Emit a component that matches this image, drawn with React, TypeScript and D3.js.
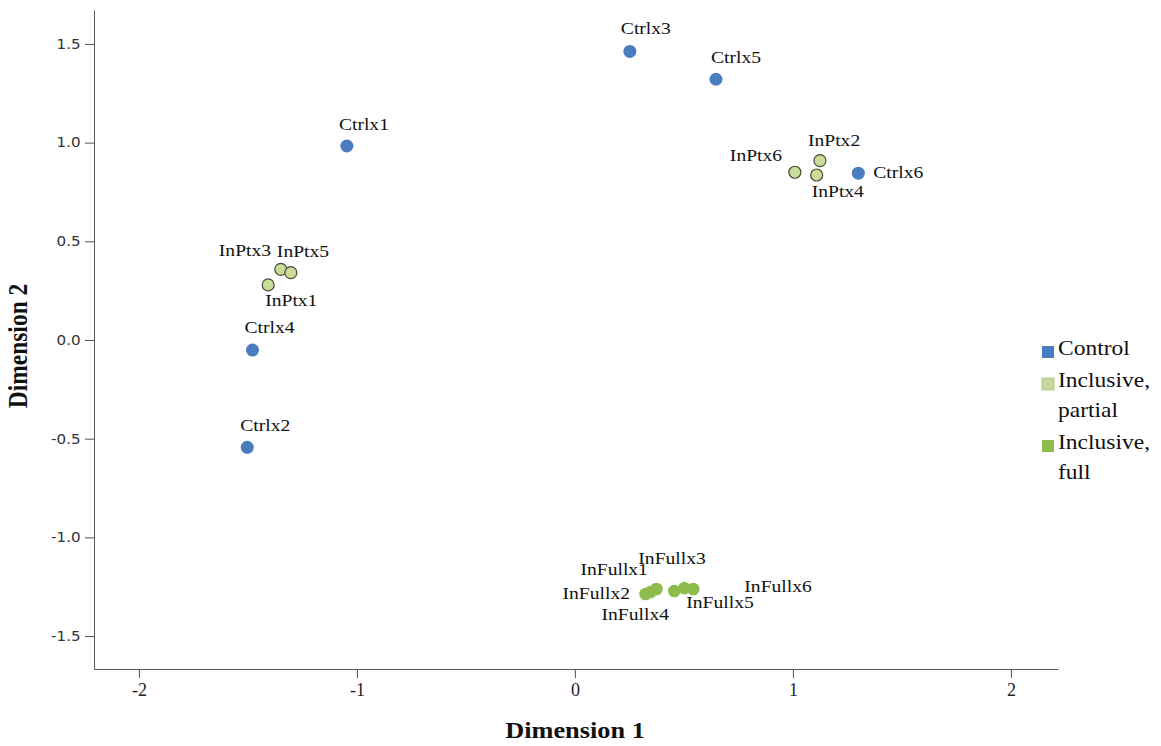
import React, { useEffect, useRef } from 'react';
import * as d3 from 'd3';

// Control group
const controlNames = ['Ctrlx1', 'Ctrlx2', 'Ctrlx3', 'Ctrlx4', 'Ctrlx5', 'Ctrlx6'];
const controlDim1 = [-1.046, -1.503, 0.252, -1.479, 0.647, 1.3];
const controlDim2 = [0.983, -0.544, 1.462, -0.051, 1.321, 0.845];

// Inclusive, partial
const partialNames = ['InPtx1', 'InPtx2', 'InPtx3', 'InPtx4', 'InPtx5', 'InPtx6'];
const partialDim1 = [-1.407, 1.124, -1.349, 1.109, -1.303, 1.009];
const partialDim2 = [0.279, 0.909, 0.358, 0.836, 0.341, 0.85];

// Inclusive, full
const fullNames = ['InFullx1', 'InFullx2', 'InFullx3', 'InFullx4', 'InFullx5', 'InFullx6'];
const fullDim1 = [0.374, 0.324, 0.502, 0.347, 0.543, 0.456];
const fullDim2 = [-1.262, -1.287, -1.257, -1.277, -1.262, -1.272];

const xTicks = [-2, -1, 0, 1, 2];
const yTicks = [-1.5, -1.0, -0.5, 0.0, 0.5, 1.0, 1.5];

const legendLabels = [['Control'], ['Inclusive,', 'partial'], ['Inclusive,', 'full']];

// where each point's label sits relative to the point (left edge, middle)
const labelOffsets: Record<string, [number, number]> = {
  Ctrlx1: [-8, -20],
  Ctrlx2: [-7, -20],
  Ctrlx3: [-9, -21],
  Ctrlx4: [-8, -21],
  Ctrlx5: [-5, -20],
  Ctrlx6: [15, 1],
  InPtx1: [-3, 17],
  InPtx2: [-12, -19],
  InPtx3: [-62, -17],
  InPtx4: [-5, 18],
  InPtx5: [-14, -20],
  InPtx6: [-65, -15],
  InFullx1: [-76, -18],
  InFullx2: [-83, 1],
  InFullx3: [-46, -28],
  InFullx4: [-49, 24],
  InFullx5: [-7, 15],
  InFullx6: [70, -3],
};

const W = 1161;
const H = 746;
const SX = 1.12; // the picture is a bit stretched sideways

export default function App() {
  const ref = useRef<SVGSVGElement>(null);

  useEffect(() => {
    const svg = d3.select(ref.current);
    svg.selectAll('*').remove();

    const x = d3.scaleLinear().domain([-2.206, 2.216]).range([94, 1058]);
    const y = d3.scaleLinear().domain([-1.667, 1.672]).range([669, 10]);

    const xAxis = d3.axisBottom(x)
      .tickValues(xTicks)
      .tickFormat((d: any) => String(d))
      .tickSize(9)
      .tickSizeOuter(0)
      .tickPadding(5);

    const yAxis = d3.axisLeft(y)
      .tickValues(yTicks)
      .tickFormat((d: any) => (+d).toFixed(1))
      .tickSize(9)
      .tickSizeOuter(0)
      .tickPadding(3);

    const gx = svg.append('g')
      .attr('transform', 'translate(0, 669)')
      .call(xAxis);
    gx.selectAll('path, line').attr('stroke', '#555');
    gx.selectAll('text')
      .attr('font-family', '"Liberation Serif", serif')
      .attr('font-size', 18)
      .attr('fill', '#222');

    const gy = svg.append('g')
      .attr('transform', 'translate(94, 0)')
      .call(yAxis);
    gy.selectAll('path, line').attr('stroke', '#555');
    gy.selectAll('text')
      .attr('font-family', '"DejaVu Sans", sans-serif')
      .attr('font-size', 13.5)
      .attr('fill', '#333')
      .attr('transform', `scale(${SX},1)`);

    // axis titles
    svg.append('text')
      .attr('transform', `translate(575, 733) scale(${SX},1)`)
      .attr('text-anchor', 'middle')
      .attr('dominant-baseline', 'middle')
      .attr('font-family', '"Liberation Serif", serif')
      .attr('font-weight', 'bold')
      .attr('font-size', 23.5)
      .attr('fill', '#111')
      .text('Dimension 1');

    svg.append('text')
      .attr('transform', `translate(21, 346) scale(${SX},1) rotate(-90)`)
      .attr('text-anchor', 'middle')
      .attr('dominant-baseline', 'middle')
      .attr('font-family', '"Liberation Serif", serif')
      .attr('font-weight', 'bold')
      .attr('font-size', 23.5)
      .attr('fill', '#111')
      .text('Dimension 2');

    const groups = [
      { names: fullNames, d1: fullDim1, d2: fullDim2, fill: '#8dbb4c', stroke: '#8dbb4c', r: 6.3 },
      { names: partialNames, d1: partialDim1, d2: partialDim2, fill: '#c9dc98', stroke: '#4a4a3a', r: 6 },
      { names: controlNames, d1: controlDim1, d2: controlDim2, fill: '#4a7dc0', stroke: '#4a7dc0', r: 6.5 },
    ];

    groups.forEach(g => {
      const data = g.names.map((n, i) => ({ name: n, a: g.d1[i], b: g.d2[i] }));
      svg.append('g').selectAll('circle')
        .data(data)
        .enter().append('circle')
        .attr('cx', d => x(d.a))
        .attr('cy', d => y(d.b))
        .attr('r', g.r)
        .attr('fill', g.fill)
        .attr('stroke', g.stroke)
        .attr('stroke-width', g.stroke === g.fill ? 0 : 1.2);

      svg.append('g').selectAll('text')
        .data(data)
        .enter().append('text')
        .attr('transform', d => {
          const o = labelOffsets[d.name] || [0, 0];
          return `translate(${x(d.a) + o[0]}, ${y(d.b) + o[1]}) scale(${SX},1)`;
        })
        .attr('dominant-baseline', 'middle')
        .attr('font-family', '"Liberation Serif", serif')
        .attr('font-size', 17.5)
        .attr('fill', '#111')
        .text(d => d.name);
    });

    // legend
    const legendColors = ['#4a7dc0', '#c5d99a', '#8dbb4c'];
    const legendTop = [352, 384, 446];
    const leg = svg.append('g');
    legendLabels.forEach((lines, i) => {
      leg.append('rect')
        .attr('x', 1042)
        .attr('y', legendTop[i] - 6)
        .attr('width', 12)
        .attr('height', 12)
        .attr('fill', legendColors[i])
        .attr('stroke', i === 1 ? '#b7c98c' : 'none');
      lines.forEach((t, j) => {
        leg.append('text')
          .attr('transform', `translate(1058, ${legendTop[i] - 2 + j * 30}) scale(${SX},1)`)
          .attr('dominant-baseline', 'middle')
          .attr('font-family', '"Liberation Serif", serif')
          .attr('font-size', 21)
          .attr('fill', '#111')
          .text(t);
      });
    });
  }, []);

  return (
    <svg
      ref={ref}
      width={W}
      height={H}
      style={{ position: 'absolute', left: 0, top: 0, background: '#fff' }}
    />
  );
}
